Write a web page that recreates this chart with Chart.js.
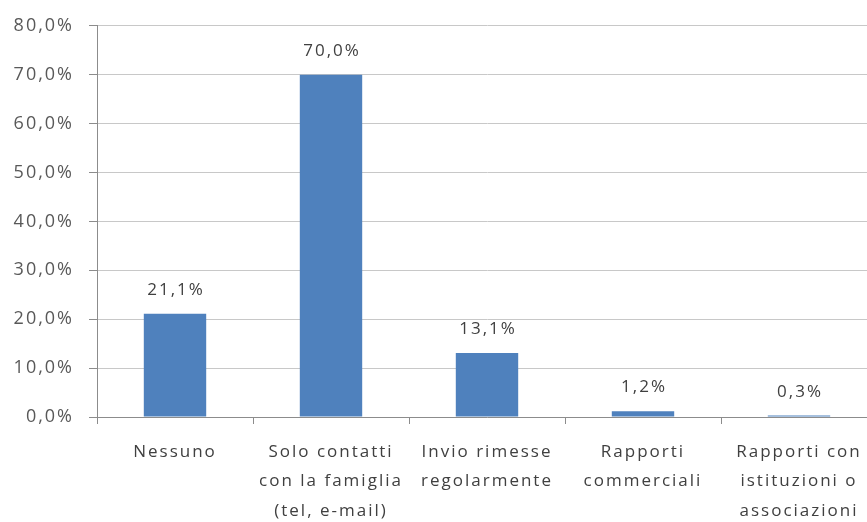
<!DOCTYPE html>
<html>
<head>
<meta charset="utf-8">
<title>Rapporti con il paese d'origine</title>
<script src="https://cdn.jsdelivr.net/npm/chart.js@4.4.0/dist/chart.umd.min.js"></script>
<style>
  html, body { margin: 0; padding: 0; background: #fff; overflow: hidden; }
  canvas { display: block; }
</style>
</head>
<body>
<canvas id="chart" width="880" height="522"></canvas>
<script>
// categorie e percentuali
const categories = [
  ['Nessuno'],
  ['Solo contatti', 'con la famiglia', '(tel, e-mail)'],
  ['Invio rimesse', 'regolarmente'],
  ['Rapporti', 'commerciali'],
  ['Rapporti con', 'istituzioni o', 'associazioni']
];
const values = [21.1, 70.0, 13.1, 1.2, 0.3];
const yTicks = [0, 10, 20, 30, 40, 50, 60, 70, 80];

const FONT = '"Open Sans", sans-serif';
const fmt = (v) => v.toFixed(1).replace('.', ',') + '%';

// testo un po' spaziato, come nel foglio di calcolo
const spacing = {
  id: 'spacing',
  beforeUpdate(chart) { chart.ctx.letterSpacing = '2px'; },
  beforeDraw(chart) { chart.ctx.letterSpacing = '2px'; }
};

// etichette con il valore sopra le barre
const valueLabels = {
  id: 'valueLabels',
  afterDatasetsDraw(chart) {
    const ctx = chart.ctx;
    const meta = chart.getDatasetMeta(0);
    ctx.save();
    ctx.font = '17px ' + FONT;
    ctx.fillStyle = '#404040';
    ctx.textAlign = 'center';
    ctx.textBaseline = 'alphabetic';
    meta.data.forEach((bar, i) => {
      ctx.fillText(fmt(values[i]), bar.x + 1, bar.y - 19);
    });
    ctx.restore();
  }
};

new Chart(document.getElementById('chart'), {
  type: 'bar',
  data: {
    labels: categories,
    datasets: [{
      data: values,
      backgroundColor: '#4f81bd',
      categoryPercentage: 1.0,
      barPercentage: 0.4
    }]
  },
  options: {
    responsive: false,
    animation: false,
    layout: { padding: { top: 9, right: 3, left: 0, bottom: 0 } },
    plugins: {
      legend: { display: false },
      tooltip: { enabled: false }
    },
    scales: {
      x: {
        offset: true,
        afterFit(axis) { axis.height = 105; },
        grid: {
          offset: true,
          drawOnChartArea: false,
          tickLength: 7,
          color: '#8c8c8c'
        },
        border: { color: '#8c8c8c' },
        ticks: {
          color: '#404040',
          font: { family: FONT, size: 17, lineHeight: 1.74 },
          padding: 13,
          maxRotation: 0,
          autoSkip: false
        }
      },
      y: {
        min: 0,
        max: 80,
        afterBuildTicks(axis) {
          axis.ticks = yTicks.map((v) => ({ value: v }));
        },
        afterFit(axis) { axis.width = 97; },
        grid: {
          color: '#c8c8c8',
          tickColor: '#8c8c8c',
          tickLength: 8
        },
        border: { color: '#8c8c8c' },
        ticks: {
          color: '#595959',
          font: { family: FONT, size: 18 },
          padding: 15,
          callback: (v) => fmt(v)
        }
      }
    }
  },
  plugins: [spacing, valueLabels]
});
</script>
</body>
</html>
